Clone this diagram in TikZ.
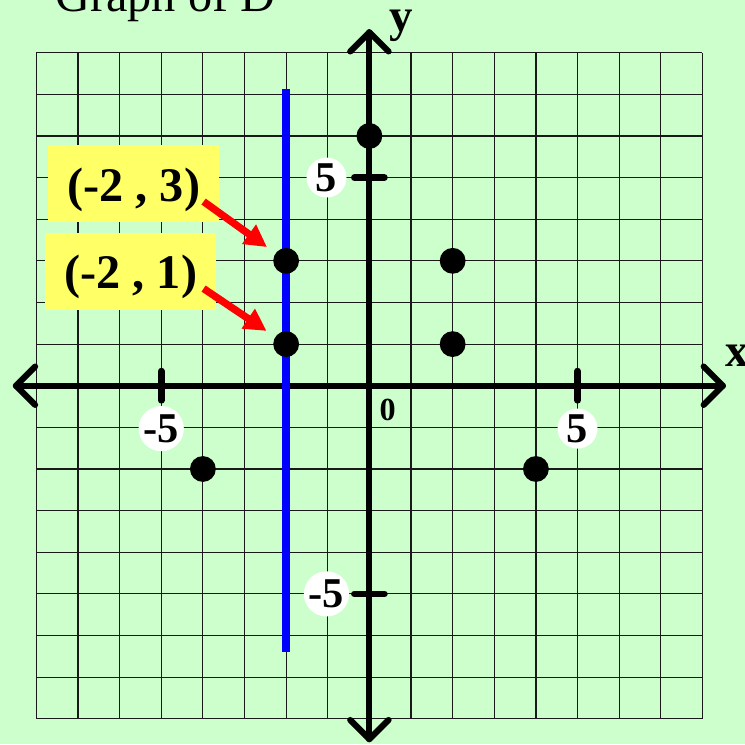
\documentclass[tikz,border=0pt]{standalone}
\usepackage{fontspec}
\setmainfont{Liberation Serif}
\usepackage{xcolor}
\usepackage{tikz}
\usetikzlibrary{positioning, arrows.meta}
\definecolor{PaleGreen}{RGB}{204,255,204}
\definecolor{NoteYellow}{RGB}{255,255,102}
\tikzset{
  gridline/.style={draw=black!90, line width=0.8pt},
  axisline/.style={draw=black, line width=4.2pt, line cap=round, line join=round},
  tickmark/.style={draw=black, line width=4.6pt, line cap=round},
  ticklabel/.style={circle, fill=white, minimum size=0.96cm, inner sep=0pt,
    font=\fontsize{29}{31}\selectfont\bfseries},
  ptdot/.style={circle, fill=black, minimum size=0.62cm, inner sep=0pt},
  vline/.style={draw=blue, line width=5.3pt},
  coordbox/.style={fill=NoteYellow, minimum width=4.1cm, minimum height=1.84cm, inner sep=0pt,
    text height=1.05cm, text depth=0.2cm, font=\fontsize{33}{36}\selectfont\bfseries},
  pointer/.style={-{Triangle[length=5.3mm, width=5.4mm]}, draw=red, line width=5pt, shorten >=0.25cm},
  axlabel/.style={font=\fontsize{32}{34}\selectfont\bfseries, inner sep=0pt},
}

\begin{document}
\begin{tikzpicture}
  \fill[PaleGreen] (-8.873,-8.607) rectangle (9.022,9.265);
  \useasboundingbox (-8.873,-8.607) rectangle (9.022,9.265);
  \draw[gridline] (-8,-8) grid (8,8);
  \node[anchor=base west, inner sep=0pt, font=\fontsize{33}{36}\selectfont] (title) at (-7.55,8.98) {Graph of D};
  \node[coordbox] (boxA) at (-5.66,4.86) {(-2 , 3)};
  \node[coordbox] (boxB) at (-5.73,2.75) {(-2 , 1)};
  \draw[axisline] (-8.49,0) -- (8.49,0);
  \draw[axisline] (0,-8.49) -- (0,8.49);
  \foreach \r in {0,90,180,270}
    \draw[axisline, rotate=\r] (8.03,0.46) -- (8.49,0) -- (8.03,-0.46);
  \foreach \t in {-5,5} {
    \draw[tickmark] (\t,-0.35) -- (\t,0.35);
    \draw[tickmark] (-0.36,\t) -- (0.36,\t);
  }
  \node[ticklabel] (xneg) at (-5,-1.03) {-5};
  \node[ticklabel] (xpos) at (5,-1.03) {5};
  \node[ticklabel] (yneg) at (-1.03,-5) {-5};
  \node[ticklabel] (ypos) at (-1.03,5) {5};
  \node[font=\fontsize{22}{24}\selectfont\bfseries, inner sep=0pt] (orig) at (0.44,-0.58) {0};
  \node[axlabel] (xlab) at (8.83,0.71) {x};
  \node[axlabel] (ylab) at (0.77,8.64) {y};
  \draw[vline] (-2,-6.40) -- (-2,7.13);
  \foreach \px/\py/\nm in {0/6/dA, 2/3/dB, 2/1/dC, -2/3/dD, -2/1/dE, -4/-2/dF, 4/-2/dG}
    \node[ptdot] (\nm) at (\px,\py) {};
  \draw[pointer] ([xshift=-0.38cm, yshift=0.49cm]boxA.south east) -- (dD);
  \draw[pointer] ([xshift=-0.31cm, yshift=0.51cm]boxB.south east) -- (dE);
\end{tikzpicture}
\end{document}
